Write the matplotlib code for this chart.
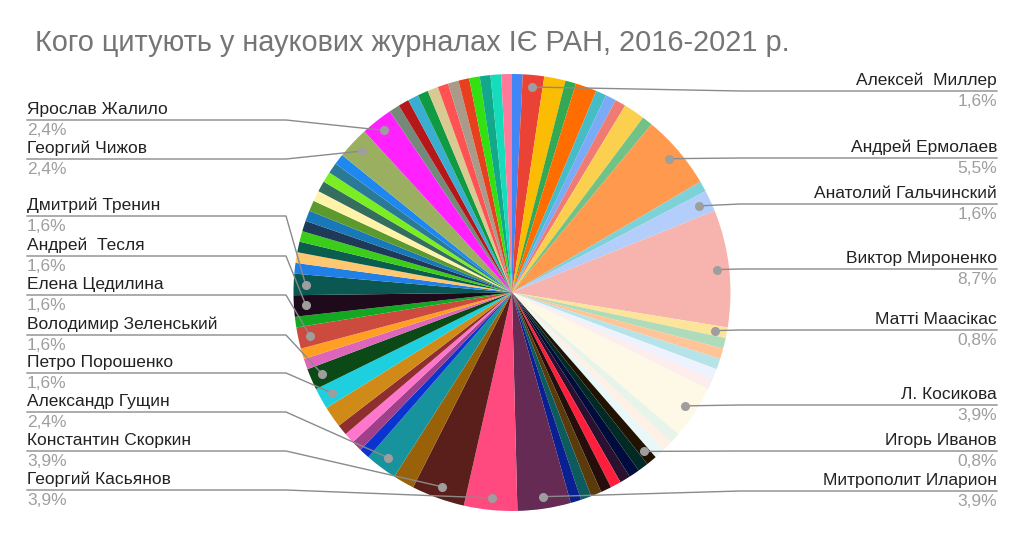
import numpy as np
import matplotlib
matplotlib.use("Agg")
import matplotlib.pyplot as plt

plt.rcParams['font.family'] = ['Liberation Sans', 'DejaVu Sans']

# slices clockwise from 12 o'clock, counts of citations (total 127)
counts = [1, 2, 2, 1, 2, 1, 1, 1, 2, 1,
          7, 1, 2, 11, 1, 1, 1, 1, 1, 1,
          5, 1, 1, 1, 1, 1, 1, 1, 1, 1,
          1, 1, 1, 5, 5, 5, 2, 3, 1, 1,
          1, 1, 2, 2, 2, 1, 1, 2, 1, 2,
          2, 1, 1, 1, 1, 1, 1, 1, 1, 1,
          1, 1, 1, 3, 3, 1, 1, 1, 1, 1,
          1, 1, 1, 1, 1, 1, 1]

names = ['', 'Алексей  Миллер', '', '', '', '', '', '', '', '',
         'Андрей Ермолаев', '', 'Анатолий Гальчинский', 'Виктор Мироненко', 'Матті Маасікас', '', '', '', '', '',
         'Л. Косикова', '', '', '', 'Игорь Иванов', '', '', '', '', '',
         '', '', '', 'Митрополит Иларион', 'Георгий Касьянов', 'Константин Скоркин', '', 'Александр Гущин', '', '',
         '', '', '', 'Петро Порошенко', 'Володимир Зеленський', '', '', 'Елена Цедилина', '', 'Андрей  Тесля',
         'Дмитрий Тренин', '', '', '', '', '', '', '', '', '',
         '', '', '', 'Георгий Чижов', 'Ярослав Жалило', '', '', '', '', '',
         '', '', '', '', '', '', '']

colors = ['#4285F4', '#EA4335', '#FBBC04', '#34A853', '#FF6D01', '#46BDC6', '#7BAAF7', '#F07B72', '#FCD04F', '#71C287',
          '#FF994D', '#7ED1D7', '#B3CEFB', '#F7B4AE', '#FDE49B', '#AEDCBA', '#FFC599', '#B5E3E8', '#ECF2FE', '#FDEDEC',
          '#FEF8E6', '#E6F4EA', '#FFF0E6', '#E9F7F9', '#211300', '#012A24', '#000C3B', '#2A1130', '#FF1F3D', '#260E0C',
          '#5B3B0C', '#0E5B5E', '#0A2090', '#652B55', '#FF4A80', '#5A1F1A', '#9A6208', '#17939D', '#0A33D0', '#A0408A',
          '#FF77CC', '#8E2E2E', '#D08A18', '#1DCFDF', '#0B4A17', '#DD66BB', '#FFA022', '#CC4A3E', '#12A822', '#1E0A1A',
          '#0B5752', '#2080E8', '#FFC870', '#0B5E4E', '#3CCC1A', '#1F3A58', '#1878B8', '#5C9A2E', '#FFF3AA', '#356E5E',
          '#7AEE22', '#2B7A95', '#1E88F0', '#9AB060', '#FF22FF', '#75897A', '#B5171A', '#3AAED0', '#119A44', '#D8CA90',
          '#FF5252', '#A99A89', '#E8401E', '#33E011', '#12A88A', '#15DDBB', '#FF7A9A']

title = 'Кого цитують у наукових журналах ІЄ РАН, 2016-2021 р.'

# layout (pixels)
W, H = 1024, 538
CX, CY, R = 512, 292.5, 218.5
label_y = {'Алексей  Миллер': 91, 'Андрей Ермолаев': 158, 'Анатолий Гальчинский': 204,
           'Виктор Мироненко': 269, 'Матті Маасікас': 330, 'Л. Косикова': 405,
           'Игорь Иванов': 451, 'Митрополит Иларион': 491,
           'Георгий Касьянов': 490, 'Константин Скоркин': 451, 'Александр Гущин': 412,
           'Петро Порошенко': 373, 'Володимир Зеленський': 335, 'Елена Цедилина': 295,
           'Андрей  Тесля': 256, 'Дмитрий Тренин': 216, 'Георгий Чижов': 159,
           'Ярослав Жалило': 120}

fig = plt.figure(figsize=(W / 100, H / 100), dpi=100)
ax = fig.add_axes([(CX - R) / W, (H - CY - R) / H, 2 * R / W, 2 * R / H])
wedges, _ = ax.pie(counts, colors=colors, startangle=90, counterclock=False,
                   radius=1, wedgeprops=dict(linewidth=0))
ax.set_xlim(-1, 1)
ax.set_ylim(-1, 1)
ax.set_aspect('equal')
ax.axis('off')


def to_data(px, py):
    return (px - CX) / R, (CY - py) / R


total = sum(counts)
for w, name, c in zip(wedges, names, counts):
    if not name:
        continue
    t = np.deg2rad((w.theta1 + w.theta2) / 2)
    dx, dy = 0.945 * np.cos(t), 0.945 * np.sin(t)
    ly = label_y[name]
    right = np.cos(t) > 0
    ex = 740 if right else 286
    tx = 997 if right else 27
    ex_d, ly_d = to_data(ex, ly)
    tx_d, _ = to_data(tx, ly)
    ax.plot([dx, ex_d, tx_d], [dy, ly_d, ly_d], color='#8a8a8a', lw=1.0,
            clip_on=False, zorder=5)
    ax.plot([dx], [dy], 'o', color='#9e9e9e', ms=5.5, clip_on=False, zorder=6)
    ha = 'right' if right else 'left'
    pct = f'{100 * c / total:.1f}'.replace('.', ',') + '%'
    _, ny = to_data(0, ly - 10.5)
    _, py = to_data(0, ly + 10.5)
    ax.text(tx_d, ny, name, ha=ha, va='center', fontsize=12.5, color='#222222', clip_on=False)
    ax.text(tx_d, py, pct, ha=ha, va='center', fontsize=12.5, color='#9e9e9e', clip_on=False)

fig.text(35 / W, 1 - 43 / H, title, ha='left', va='center', fontsize=20.8, color='#757575')

fig.savefig('out.png', dpi=100)
